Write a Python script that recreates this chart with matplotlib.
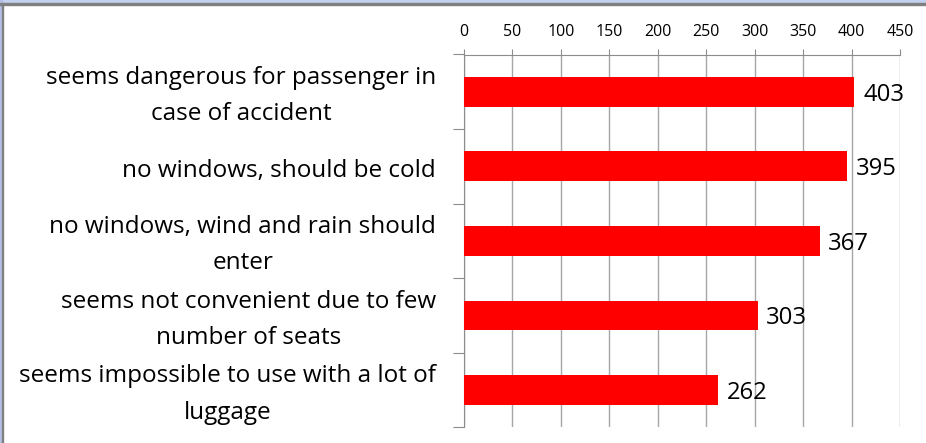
import matplotlib.pyplot as plt
from matplotlib.patches import Rectangle

categories = [
    "seems dangerous for passenger in\ncase of accident",
    "no windows, should be cold",
    "no windows, wind and rain should\nenter",
    "seems not convenient due to few\nnumber of seats",
    "seems impossible to use with a lot of\nluggage",
]
counts = [403, 395, 367, 303, 262]
x_ticks = [0, 50, 100, 150, 200, 250, 300, 350, 400, 450]

plt.rcParams['font.family'] = ['Open Sans', 'DejaVu Sans']

fig = plt.figure(figsize=(9.26, 4.43), dpi=100)
W, H = 926, 443
ax = fig.add_axes([464 / W, 1 - 427.3 / H, 436 / W, (427.3 - 54.5) / H])

ypos = list(range(len(categories)))
ax.barh(ypos, counts, height=0.40, color='#ff0000', zorder=3)
ax.set_ylim(len(categories) - 0.5, -0.5)
ax.set_xlim(0, 450)

# value labels to the right of each bar
for y, v in zip(ypos, counts):
    ax.text(v + 9, y + 0.04, str(v), va='center', ha='left', fontsize=17.2,
            color='black', zorder=4)

# axis along the top, gridlines every 50
ax.xaxis.tick_top()
ax.set_xticks(x_ticks)
ax.set_xticklabels([str(t) for t in x_ticks], fontsize=11.5)
ax.tick_params(axis='x', direction='out', length=4.3, width=0.8, color='#8c8c8c', pad=6.3)
ax.grid(axis='x', color='#a6a6a6', linewidth=1, zorder=0)

# category boundary ticks on the left
ax.set_yticks([i - 0.5 for i in range(len(categories) + 1)])
ax.set_yticklabels([])
ax.tick_params(axis='y', direction='out', length=8, width=0.8, color='#8c8c8c')
for y, lab in zip(ypos, categories):
    ax.text(-28 / 0.971, y + 0.06, lab, ha='right', va='center', multialignment='center',
            fontsize=17.5, linespacing=1.68, color='black')

for s in ['right', 'bottom']:
    ax.spines[s].set_visible(False)
ax.spines['left'].set_color('#8c8c8c')
ax.spines['top'].set_color('#8c8c8c')

# window frame along top and left edges
fig.patches.append(Rectangle((0, 1 - 3 / H), 1, 3 / H, transform=fig.transFigure,
                             color='#c4d0f0', zorder=0))
fig.patches.append(Rectangle((0, 1 - 4.5 / H), 1, 1.5 / H, transform=fig.transFigure,
                             color='#808080', zorder=1))
fig.patches.append(Rectangle((0, 0), 1.5 / W, 1, transform=fig.transFigure,
                             color='#b4c0e8', zorder=0))
fig.patches.append(Rectangle((1.5 / W, 0), 1.5 / W, 1 - 3 / H, transform=fig.transFigure,
                             color='#808080', zorder=1))

fig.savefig('out.png', dpi=100)
